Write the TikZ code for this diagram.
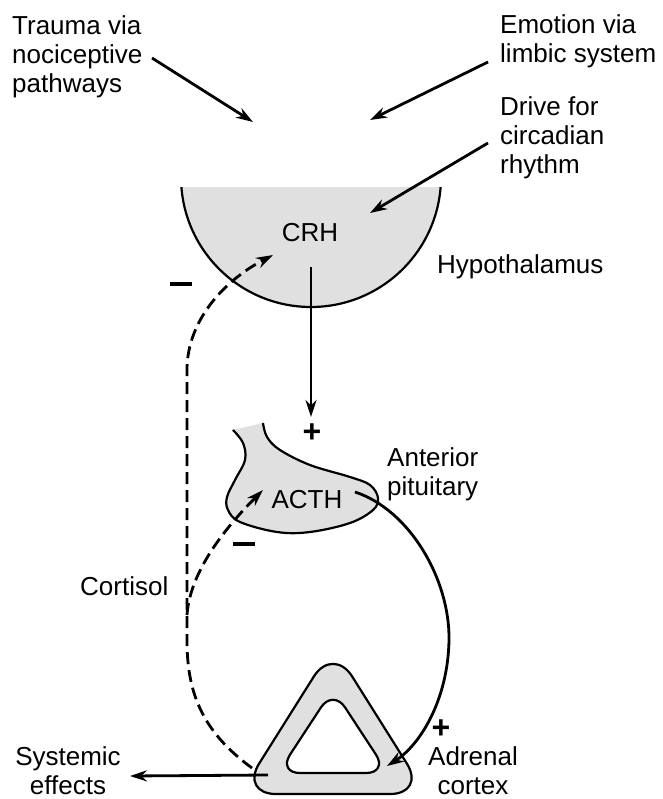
\documentclass[tikz,border=0pt]{standalone}
\usepackage{fontspec}
\setmainfont{Liberation Sans}
\usepackage{tikz}
\usetikzlibrary{arrows.meta}
\definecolor{glandgray}{gray}{0.88}
\newcommand{\lblfont}{\fontsize{26}{29}\selectfont}

\tikzset{
  lbl/.style={inner sep=0pt, font=\lblfont},
  sign/.style={inner sep=0pt, font=\fontsize{32}{32}\selectfont\bfseries},
  arr/.style={line width=2.8pt, -{Stealth[length=17pt,width=11pt]}},
  fb/.style={arr, dash pattern=on 12pt off 6pt},
  gland/.style={fill=glandgray, draw=black, line width=2.2pt},
}

\begin{document}
\begin{tikzpicture}[x=1pt, y=-1pt]
  \useasboundingbox (0,0) rectangle (662,799);

  % Hypothalamus: half disc, open on top
  \begin{scope}
    \clip (150,188) rectangle (470,330);
    \fill[glandgray] (311,177) circle[radius=130];
    \draw[line width=2.2pt] (311,177) circle[radius=130];
  \end{scope}
  \node[lbl, anchor=base] (crh) at (310,242) {CRH};
  \node[lbl, anchor=base west] (hypo) at (437,273) {Hypothalamus};

  % Anterior pituitary
  \fill[glandgray] plot[smooth, tension=0.6] coordinates {(233,430) (243,443) (245,460) (235,480)
      (227,497) (228,510) (240,522) (277,532) (310,532) (350,523) (373,510) (378,498) (370,485)
      (350,477) (310,465) (280,450) (267,437) (263,423)} -- cycle;
  \draw[line width=2.2pt] plot[smooth, tension=0.6] coordinates {(233,430) (243,443) (245,460) (235,480)
      (227,497) (228,510) (240,522) (277,532) (310,532) (350,523) (373,510) (378,498) (370,485)
      (350,477) (310,465) (280,450) (267,437) (263,423)};
  \node[lbl, anchor=base] (acth) at (307,508) {ACTH};
  \node[lbl, anchor=north west, align=left] (pit) at (387,447.5) {Anterior\\pituitary};

  % Adrenal cortex: rounded triangle with a hole
  \path[gland, even odd rule]
    [rounded corners=36pt] (333,646) -- (426,794) -- (240,794) -- cycle
    [rounded corners=22pt] (333,689) -- (388,773) -- (278,773) -- cycle;
  \node[lbl, anchor=north, align=center] (adrenal) at (473,746) {Adrenal\\cortex};

  % inputs to the hypothalamus
  \node[lbl, anchor=north west, align=left] (trauma) at (12,15.5) {Trauma via\\nociceptive\\pathways};
  \node[lbl, anchor=north west, align=left] (emotion) at (500,14.5) {Emotion via\\limbic system};
  \node[lbl, anchor=north west, align=left] (drive) at (500,96.5) {Drive for\\circadian\\rhythm};
  \coordinate (traumaOut) at (152,58);
  \coordinate (traumaIn) at (253,122);
  \coordinate (emotionOut) at (488,62);
  \coordinate (emotionIn) at (370,120);
  \coordinate (driveOut) at (488,143);
  \coordinate (driveIn) at (370,213);
  \draw[arr] (traumaOut) -- (traumaIn);
  \draw[arr] (emotionOut) -- (emotionIn);
  \draw[arr] (driveOut) -- (driveIn);

  % forward chain
  \coordinate (crhOut) at (311,267);
  \coordinate (acthIn) at (311,417);
  \coordinate (acthOut) at (355,492);
  \coordinate (adrenalIn) at (387,766);
  \draw[arr] (crhOut) -- (acthIn);
  \draw[arr] (acthOut) .. controls (410,510) and (450,580) .. (449,640)
                       .. controls (448,700) and (420,745) .. (adrenalIn);

  % cortisol feedback
  \coordinate (cortOut) at (252,768);
  \coordinate (crhIn) at (273,255);
  \coordinate (split) at (187,615);
  \coordinate (acthFb) at (263,490);
  \draw[fb] (cortOut) .. controls (200,730) and (187,690) .. (187,640) -- (187,370)
            .. controls (187,320) and (225,280) .. (crhIn);
  \draw[fb] (split) .. controls (190,570) and (228,525) .. (acthFb);
  \node[lbl, anchor=base west] (cortisol) at (80,595) {Cortisol};

  % systemic effects
  \node[lbl, anchor=north, align=center] (systemic) at (68,746) {Systemic\\effects};
  \coordinate (sysOut) at (268,775);
  \coordinate (sysIn) at (130,776);
  \draw[arr] (sysOut) -- (sysIn);

  % signs
  \node[inner sep=0pt] (minusCrh) at (181,284) {\rule{22pt}{3.5pt}};
  \node[inner sep=0pt] (minusActh) at (244,544) {\rule{22pt}{3.5pt}};
  \node[sign] (plusActh) at (312,433) {+};
  \node[sign] (plusAdrenal) at (441,729) {+};
\end{tikzpicture}
\end{document}
